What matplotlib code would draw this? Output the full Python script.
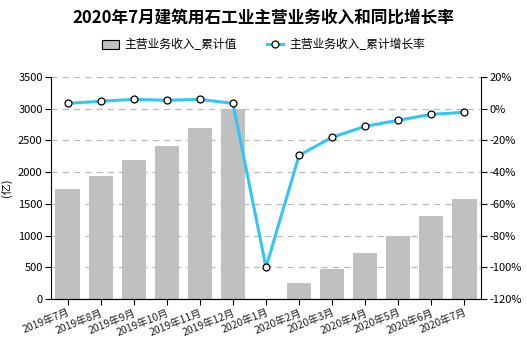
import matplotlib
matplotlib.use("Agg")
import matplotlib.pyplot as plt
import numpy as np
from matplotlib.patches import Patch
from matplotlib.lines import Line2D

plt.rcParams['font.family'] = ['Noto Sans CJK SC', 'DejaVu Sans']
plt.rcParams['axes.unicode_minus'] = False

categories = ["2019年7月", "2019年8月", "2019年9月", "2019年10月", "2019年11月", "2019年12月",
              "2020年1月", "2020年2月", "2020年3月", "2020年4月", "2020年5月", "2020年6月", "2020年7月"]
revenue = [1734, 1939, 2191, 2412, 2696, 3000, np.nan, 252, 473, 725, 998, 1309, 1577]
growth = [3.4, 4.7, 5.9, 5.3, 5.9, 3.4, -100.0, -29.4, -18.0, -11.1, -7.3, -3.5, -2.3]
left_ticks = [0, 500, 1000, 1500, 2000, 2500, 3000, 3500]
right_ticks = [-120, -100, -80, -60, -40, -20, 0, 20]

title = "2020年7月建筑用石工业主营业务收入和同比增长率"
bar_name = "主营业务收入_累计值"
line_name = "主营业务收入_累计增长率"

fig = plt.figure(figsize=(5.27, 3.43), dpi=100)
ax = fig.add_axes([51/527, 1 - 299/343, 430/527, 222/343])
x = np.arange(len(categories))

ax.bar(x, revenue, width=0.73, color="#C0C0C0", zorder=2)
ax.set_xlim(-0.5, len(categories) - 0.5)
ax.set_ylim(0, 3500)
ax.set_yticks(left_ticks)
ax.set_yticklabels([str(t) for t in left_ticks], fontsize=8)
ax.yaxis.grid(True, linestyle=(0, (5, 4)), color="#BBBBBB", linewidth=0.9, zorder=0)
ax.set_axisbelow(True)
ax.set_xticks(x)
ax.set_xticklabels(categories, rotation=22, ha="right", rotation_mode="anchor", fontsize=7.5, color="#222222")
ax.tick_params(axis="x", length=4, pad=2)
ax.tick_params(axis="y", length=4, pad=2)
ax.set_ylabel("(亿)", fontsize=8)
ax.spines["top"].set_visible(False)
ax.spines["right"].set_visible(False)

ax2 = ax.twinx()
ax2.plot(x, growth, color="#33C6F4", linewidth=2.2, marker="o", markersize=5,
         markerfacecolor="white", markeredgecolor="black", markeredgewidth=0.9, zorder=5)
ax2.set_ylim(-120, 20)
ax2.set_yticks(right_ticks)
ax2.set_yticklabels([f"{t}%" for t in right_ticks], fontsize=8)
ax2.tick_params(axis="y", length=4, pad=2)
ax2.spines["top"].set_visible(False)
ax2.spines["left"].set_visible(False)

fig.text(0.5, 1 - 18/343, title, ha="center", va="center", fontsize=12, fontweight="bold")

handles = [Patch(facecolor="#C0C0C0", edgecolor="black", linewidth=0.8),
           Line2D([0], [0], color="#33C6F4", linewidth=2.2, marker="o", markersize=5,
                  markerfacecolor="white", markeredgecolor="black", markeredgewidth=0.9)]
fig.legend(handles, [bar_name, line_name], loc="center", bbox_to_anchor=(0.5, 1 - 45/343),
           ncol=2, frameon=False, fontsize=8.5, handlelength=1.4, columnspacing=2.5, handletextpad=0.5)

fig.savefig("out.png", dpi=100)
